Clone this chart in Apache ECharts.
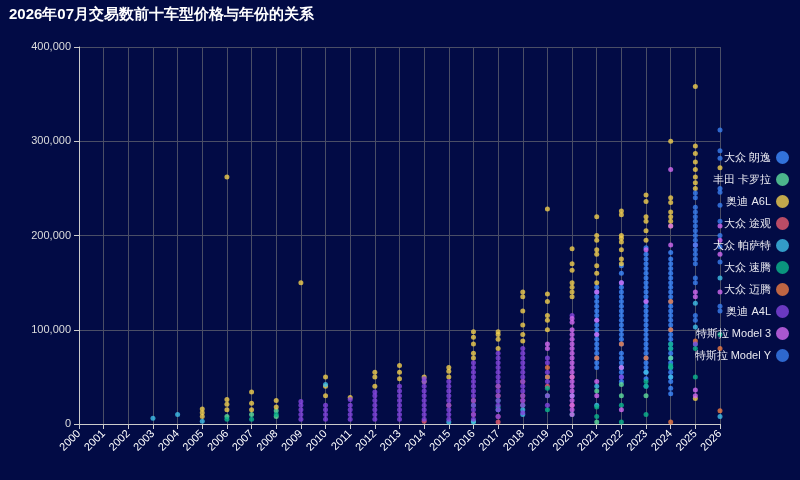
<!DOCTYPE html>
<html><head><meta charset="utf-8">
<script src="https://cdn.jsdelivr.net/npm/echarts@6/dist/echarts.min.js"></script>
<style>html,body{margin:0;background:#020b45;}#c{width:800px;height:480px;}</style>
</head><body><div id="c"></div>
<script>
const seriesNames = ['大众 朗逸','丰田 卡罗拉','奥迪 A6L','大众 途观','大众 帕萨特','大众 速腾','大众 迈腾','奥迪 A4L','特斯拉 Model 3','特斯拉 Model Y'];
const colors = ['#3f8cff','#5fe09c','#f2cf4e','#e85c6e','#40c0e8','#0db88c','#ef7c42','#8545e0','#d56af2','#3a80f0'];

const langyi = [
[2021,60000],[2021,65000],[2021,70000],[2021,75000],[2021,80000],[2021,85000],[2021,90000],[2021,95000],[2021,100000],[2021,105000],[2021,110000],[2021,115000],[2021,120000],[2021,125000],[2021,130000],[2021,135000],[2021,140000],[2021,145000],
[2022,45000],[2022,50000],[2022,55000],[2022,60000],[2022,65000],[2022,70000],[2022,75000],[2022,85000],[2022,90000],[2022,95000],[2022,100000],[2022,105000],[2022,110000],[2022,115000],[2022,120000],[2022,125000],[2022,130000],[2022,135000],[2022,140000],[2022,145000],[2022,150000],[2022,160000],[2022,168000],
[2023,40000],[2023,48000],[2023,55000],[2023,60000],[2023,65000],[2023,70000],[2023,75000],[2023,80000],[2023,85000],[2023,90000],[2023,95000],[2023,100000],[2023,105000],[2023,110000],[2023,115000],[2023,120000],[2023,125000],[2023,130000],[2023,135000],[2023,140000],[2023,145000],[2023,150000],[2023,155000],[2023,160000],[2023,165000],[2023,170000],[2023,175000],[2023,180000],[2023,187000],
[2024,32000],[2024,38000],[2024,45000],[2024,50000],[2024,55000],[2024,60000],[2024,65000],[2024,70000],[2024,75000],[2024,80000],[2024,85000],[2024,90000],[2024,95000],[2024,100000],[2024,105000],[2024,110000],[2024,115000],[2024,120000],[2024,125000],[2024,130000],[2024,135000],[2024,140000],[2024,145000],[2024,150000],[2024,155000],[2024,160000],[2024,165000],[2024,170000],[2024,175000],[2024,182000]
];
const corolla = [[2006,8000],[2007,10000],[2008,14000],[2008,8000],[2016,3000],[2018,20000],[2019,30000],[2021,2000],[2021,35000],[2022,30000],[2022,42000],[2023,30000],[2024,70000]];
const a6l = [
[2005,16000],[2005,12000],[2005,8000],[2006,262000],[2006,26000],[2006,21000],[2006,15000],[2007,34000],[2007,22000],[2007,15000],[2008,25000],[2008,18000],[2009,150000],[2010,50000],[2010,40000],[2010,30000],[2011,28000],[2012,55000],[2012,50000],[2012,40000],[2013,62000],[2013,55000],[2013,48000],[2014,50000],[2014,45000],[2015,60000],[2015,56000],[2015,50000],
[2016,98000],[2016,92000],[2016,85000],[2016,75000],[2016,70000],[2017,98000],[2017,95000],[2017,90000],[2017,80000],
[2018,140000],[2018,135000],[2018,120000],[2018,105000],[2018,95000],[2018,88000],[2019,228000],[2019,138000],[2019,130000],[2019,115000],[2019,110000],[2019,100000],
[2020,186000],[2020,170000],[2020,163000],[2020,150000],[2020,145000],[2020,140000],[2020,135000],
[2021,220000],[2021,200000],[2021,195000],[2021,185000],[2021,180000],[2021,168000],[2021,160000],[2021,150000],
[2022,226000],[2022,222000],[2022,200000],[2022,197000],[2022,193000],[2022,185000],[2022,175000],[2022,170000],
[2023,243000],[2023,236000],[2023,220000],[2023,215000],[2023,205000],[2023,195000],
[2024,300000],[2024,240000],[2024,235000],[2024,225000],[2024,220000],[2024,215000],[2024,210000],
[2025,358000],[2025,295000],[2025,287000],[2025,278000],[2025,270000],[2025,262000],[2025,256000],[2025,250000],[2025,27000],[2026,272000]
];
const tiguan = [[2014,3000],[2016,10000],[2017,2000],[2017,8000],[2018,25000],[2019,40000],[2020,20000]];
const passat = [[2003,6000],[2004,10000],[2005,3000],[2010,42000],[2015,2000],[2016,2000],[2017,15000],[2018,10000],[2018,15000],[2019,50000],[2020,30000],[2021,20000],[2021,40000],[2022,60000],[2023,55000],[2024,50000],[2025,128000],[2025,103000],[2026,155000],[2026,8000]];
const sagitar = [[2006,5000],[2007,5000],[2008,10000],[2016,20000],[2017,25000],[2017,18000],[2019,15000],[2019,38000],[2020,10000],[2021,8000],[2021,18000],[2022,20000],[2022,2000],[2023,10000],[2023,40000],[2023,45000],[2024,80000],[2024,85000],[2024,60000],[2024,62000],[2025,50000],[2025,85000],[2025,80000],[2026,95000]];
const magotan = [[2015,20000],[2016,25000],[2017,30000],[2017,40000],[2018,45000],[2018,30000],[2019,60000],[2019,50000],[2020,50000],[2021,70000],[2022,85000],[2023,70000],[2024,100000],[2024,130000],[2024,2000],[2025,88000],[2026,80000],[2026,14000]];
const a4l = [
[2009,5000],[2009,10000],[2009,15000],[2009,20000],[2009,24000],[2010,5000],[2010,10000],[2010,15000],[2010,20000],[2011,5000],[2011,10000],[2011,15000],[2011,20000],[2011,26000],
[2012,5000],[2012,10000],[2012,15000],[2012,20000],[2012,25000],[2012,30000],[2012,34000],[2013,5000],[2013,10000],[2013,15000],[2013,20000],[2013,25000],[2013,30000],[2013,35000],[2013,40000],
[2014,5000],[2014,10000],[2014,15000],[2014,20000],[2014,25000],[2014,30000],[2014,35000],[2014,40000],[2014,45000],[2014,48000],
[2015,5000],[2015,10000],[2015,15000],[2015,20000],[2015,25000],[2015,30000],[2015,35000],[2015,40000],[2015,45000],
[2016,5000],[2016,10000],[2016,15000],[2016,20000],[2016,25000],[2016,30000],[2016,35000],[2016,40000],[2016,45000],[2016,50000],[2016,55000],[2016,60000],[2016,65000],
[2017,8000],[2017,15000],[2017,20000],[2017,25000],[2017,30000],[2017,35000],[2017,40000],[2017,45000],[2017,50000],[2017,55000],[2017,60000],[2017,65000],[2017,70000],[2017,75000],
[2018,12000],[2018,20000],[2018,25000],[2018,30000],[2018,35000],[2018,40000],[2018,45000],[2018,50000],[2018,55000],[2018,60000],[2018,65000],[2018,70000],[2018,75000],[2018,80000],
[2019,20000],[2019,30000],[2019,45000],[2019,55000],[2019,65000],[2019,70000],[2020,115000],[2022,50000],[2025,85000]
];
const model3 = [
[2019,80000],[2019,85000],[2020,10000],[2020,15000],[2020,20000],[2020,25000],[2020,30000],[2020,35000],[2020,40000],[2020,45000],[2020,50000],[2020,55000],[2020,60000],[2020,65000],[2020,70000],[2020,75000],[2020,80000],[2020,85000],[2020,90000],[2020,95000],[2020,100000],[2020,108000],[2020,112000],
[2021,30000],[2021,45000],[2021,95000],[2021,110000],[2021,140000],[2022,15000],[2022,60000],[2022,150000],[2023,130000],[2023,185000],[2024,210000],[2024,270000],[2024,190000],[2025,190000],[2025,135000],[2025,140000],[2025,36000],[2025,30000],[2026,210000],[2026,195000],[2026,180000],[2026,140000]
];
const modelY = [
[2025,170000],[2025,175000],[2025,180000],[2025,185000],[2025,190000],[2025,195000],[2025,200000],[2025,205000],[2025,210000],[2025,215000],[2025,220000],[2025,225000],[2025,230000],[2025,245000],[2025,240000],[2025,155000],[2025,150000],[2025,115000],[2025,110000],
[2026,312000],[2026,290000],[2026,282000],[2026,250000],[2026,246000],[2026,232000],[2026,215000],[2026,200000],[2026,188000],[2026,172000],[2026,125000],[2026,120000]
];
const allData = [langyi,corolla,a6l,tiguan,passat,sagitar,magotan,a4l,model3,modelY];

const chart = echarts.init(document.getElementById('c'));
chart.setOption({
  backgroundColor:'#020b45',
  color: colors,
  title:{text:'2026年07月交易数前十车型价格与年份的关系',left:4,top:2,textStyle:{color:'#fff',fontSize:15,fontWeight:'bold'}},
  legend:{orient:'vertical',right:6,top:146,align:'right',itemGap:9,icon:'circle',itemWidth:13,itemHeight:13,
    textStyle:{color:'#e8e8f0',fontSize:11}},
  grid:{left:79,right:80,top:47,bottom:56},
  xAxis:{type:'value',min:2000,max:2026,interval:1,
    axisLabel:{color:'#fff',rotate:45,fontSize:11,formatter:v=>String(v)},
    axisLine:{lineStyle:{color:'#ccc'}},axisTick:{show:true},
    splitLine:{show:true,lineStyle:{color:'#4a4e66'}}},
  yAxis:{type:'value',min:0,max:400000,interval:100000,
    axisLabel:{color:'#ddd',fontSize:11,formatter:v=>v.toLocaleString('en-US')},
    axisLine:{show:true,lineStyle:{color:'#ccc'}},axisTick:{show:true},
    splitLine:{lineStyle:{color:'#4a4e66'}}},
  series: seriesNames.map((n,i)=>({name:n,type:'scatter',symbolSize:5,data:allData[i]}))
});
</script></body></html>
